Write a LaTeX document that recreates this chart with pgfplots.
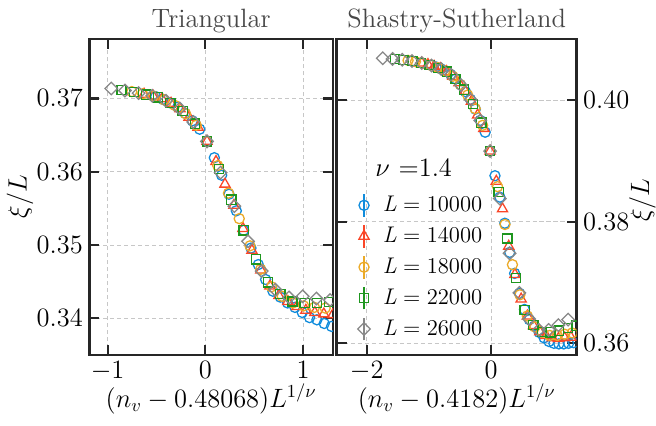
\documentclass[border=0pt]{standalone}
\usepackage{fontspec}
\usepackage{pgfplots}
\pgfplotsset{compat=1.18}
\definecolor{cB}{RGB}{16,140,220}
\definecolor{cR}{RGB}{250,70,40}
\definecolor{cO}{RGB}{235,170,40}
\definecolor{cG}{RGB}{30,150,30}
\definecolor{cK}{RGB}{136,136,136}
\definecolor{frame}{RGB}{38,38,38}
\newcommand{\Lent}[1]{\textit{L}\hspace{0.28em}=\hspace{0.28em}#1}
\pgfplotsset{
  panel/.style={
    scale only axis, height=171.71pt,
    axis line style={line width=1.4pt, color=frame},
    tick style={line width=1.25pt, color=frame},
    major tick length=5.4pt,
    tick align=inside,
    xtick pos=both, ytick pos=both,
    xticklabel pos=lower,
    grid=major,
    major grid style={line width=0.45pt, color=black!22, dash pattern=on 2.2pt off 1.6pt},
    clip marker paths=true,
    every axis title/.style={at={(axis description cs:0.5,1)}, anchor=base, yshift=6.5pt, color=black!72},
    xlabel style={at={(axis description cs:0.5,0)}, anchor=base, yshift=-28.3pt},
  },
  sB/.style={only marks, mark=o, mark size=2.75pt, color=cB, line width=0.7pt},
  sR/.style={only marks, mark=triangle, mark size=3.2pt, color=cR, line width=0.7pt},
  sO/.style={only marks, mark=o, mark size=2.75pt, color=cO, line width=0.7pt},
  sG/.style={only marks, mark=square, mark size=2.5pt, color=cG, line width=0.7pt},
  sK/.style={only marks, mark=square, mark options={rotate=45}, mark size=2.4pt, color=cK, line width=0.7pt},
}
\begin{document}
\begin{tikzpicture}[font=\Large]
\path[use as bounding box] (-48.53pt,-38.04pt) rectangle (307.95pt,192.91pt);
% ---------------- left panel ----------------
\begin{axis}[panel, at={(0pt,0pt)}, anchor=south west, width=132.43pt,
  xmin=-1.188, xmax=1.307, ymin=0.3350, ymax=0.3781,
  xtick={-1,0,1}, ytick={0.34,0.35,0.36,0.37},
  yticklabel style={/pgf/number format/fixed, /pgf/number format/precision=2, /pgf/number format/fixed zerofill},
  title={Triangular},
  xlabel={$(n_v-0.48068)L^{1/\nu}$},
  every axis y label/.style={at={(axis description cs:-0.2844,0.5016)}, rotate=90, anchor=center},
  ylabel={$\xi/L$},
]
\addplot[sB] table {
-0.508 0.37025
-0.433 0.36986
-0.358 0.36938
-0.283 0.36880
-0.208 0.36798
-0.133 0.36694
-0.058 0.36580
0.017 0.36414
0.092 0.36191
0.167 0.35952
0.242 0.35693
0.317 0.35467
0.392 0.35201
0.467 0.34958
0.542 0.34733
0.617 0.34530
0.692 0.34370
0.767 0.34290
0.842 0.34210
0.917 0.34150
0.992 0.34080
1.067 0.34010
1.142 0.33980
1.217 0.33930
1.292 0.33890
};
\addplot[sR] table {
-0.627 0.37057
-0.535 0.37033
-0.443 0.36994
-0.351 0.36933
-0.259 0.36857
-0.167 0.36742
-0.075 0.36606
0.017 0.36414
0.109 0.36139
0.201 0.35830
0.293 0.35543
0.385 0.35226
0.477 0.34927
0.569 0.34660
0.661 0.34440
0.753 0.34310
0.845 0.34230
0.937 0.34160
1.029 0.34110
1.121 0.34080
1.213 0.34060
1.305 0.34050
};
\addplot[sO] table {
-0.753 0.37093
-0.643 0.37062
-0.533 0.37032
-0.423 0.36980
-0.313 0.36905
-0.203 0.36792
-0.093 0.36634
0.017 0.36414
0.127 0.36083
0.237 0.35708
0.347 0.35360
0.457 0.34989
0.567 0.34670
0.677 0.34430
0.787 0.34300
0.897 0.34210
1.007 0.34170
1.117 0.34150
1.227 0.34140
};
\addplot[sG] table {
-0.858 0.37114
-0.733 0.37087
-0.608 0.37052
-0.483 0.37013
-0.358 0.36938
-0.233 0.36831
-0.108 0.36657
0.017 0.36414
0.142 0.36036
0.267 0.35620
0.392 0.35201
0.517 0.34805
0.642 0.34492
0.767 0.34330
0.892 0.34230
1.017 0.34210
1.142 0.34210
1.267 0.34220
};
\addplot[sK] table {
-0.963 0.37135
-0.823 0.37107
-0.683 0.37073
-0.543 0.37035
-0.403 0.36968
-0.263 0.36862
-0.123 0.36679
0.017 0.36414
0.157 0.35988
0.297 0.35531
0.437 0.35050
0.577 0.34645
0.717 0.34390
0.857 0.34285
0.997 0.34300
1.137 0.34270
1.277 0.34250
};
\end{axis}
% ---------------- right panel ----------------
\begin{axis}[panel, at={(134.44pt,0pt)}, anchor=south west, width=130.42pt,
  xmin=-2.483, xmax=1.379, ymin=0.35808, ymax=0.41003,
  xtick={-2,0}, ytick={0.36,0.38,0.40},
  ytick pos=both, yticklabel pos=right,
  yticklabel style={/pgf/number format/fixed, /pgf/number format/precision=2, /pgf/number format/fixed zerofill},
  title={Shastry-Sutherland},
  xlabel={$(n_v-0.4182)L^{1/\nu}$},
  every axis y label/.style={at={(axis description cs:1.274,0.4905)}, rotate=90, anchor=center},
  ylabel={$\xi/L$},
  legend style={draw=none, fill=none, at={(axis description cs:0.0863,0.0407)}, anchor=south west,
    inner sep=0pt, row sep=2.9pt, column sep=4.9pt, nodes={inner sep=2pt}, font=\fontsize{12.3}{15}\selectfont},
  legend cell align=left,
  legend image code/.code={
    \draw[#1, line width=1pt] (0pt,-6.2pt) -- (0pt,6.2pt);
    \draw[mark repeat=2,mark phase=2,#1] plot coordinates {(-1pt,0pt)(0pt,0pt)(1pt,0pt)};
  },
]
\addplot[sB] table {
-0.884 0.40543
-0.805 0.40512
-0.726 0.40474
-0.647 0.40418
-0.568 0.40346
-0.489 0.40248
-0.410 0.40136
-0.331 0.40010
-0.252 0.39850
-0.173 0.39665
-0.094 0.39471
-0.015 0.39160
0.064 0.38755
0.143 0.38403
0.222 0.37974
0.301 0.37495
0.380 0.37150
0.459 0.36820
0.538 0.36557
0.617 0.36389
0.696 0.36280
0.775 0.36180
0.854 0.36090
0.933 0.36030
1.012 0.36000
1.091 0.35990
1.170 0.35990
1.249 0.36000
1.328 0.36010
};
\addlegendentry{\Lent{10000}}
\addplot[sR] table {
-1.115 0.40609
-1.015 0.40584
-0.915 0.40553
-0.815 0.40516
-0.715 0.40468
-0.615 0.40391
-0.515 0.40282
-0.415 0.40144
-0.315 0.39979
-0.215 0.39754
-0.115 0.39533
-0.015 0.39160
0.085 0.38665
0.185 0.38210
0.285 0.37596
0.385 0.37132
0.485 0.36728
0.585 0.36449
0.685 0.36290
0.785 0.36190
0.885 0.36130
0.985 0.36090
1.085 0.36080
1.185 0.36090
1.285 0.36100
};
\addlegendentry{\Lent{14000}}
\addplot[sO] table {
-1.335 0.40651
-1.215 0.40631
-1.095 0.40605
-0.975 0.40572
-0.855 0.40532
-0.735 0.40478
-0.615 0.40391
-0.495 0.40256
-0.375 0.40082
-0.255 0.39858
-0.135 0.39584
-0.015 0.39160
0.105 0.38576
0.225 0.37954
0.345 0.37293
0.465 0.36798
0.585 0.36450
0.705 0.36270
0.825 0.36180
0.945 0.36130
1.065 0.36130
1.185 0.36150
1.305 0.36170
};
\addlegendentry{\Lent{18000}}
\addplot[sG] table {
-1.544 0.40672
-1.405 0.40659
-1.266 0.40641
-1.127 0.40612
-0.988 0.40576
-0.849 0.40530
-0.710 0.40466
-0.571 0.40349
-0.432 0.40172
-0.293 0.39936
-0.154 0.39627
-0.015 0.39160
0.124 0.38487
0.263 0.37723
0.402 0.37070
0.541 0.36550
0.680 0.36300
0.819 0.36190
0.958 0.36180
1.097 0.36210
1.236 0.36250
1.375 0.36290
};
\addlegendentry{\Lent{22000}}
\addplot[sK] table {
-1.742 0.40687
-1.585 0.40676
-1.428 0.40661
-1.271 0.40641
-1.114 0.40609
-0.957 0.40566
-0.800 0.40510
-0.643 0.40415
-0.486 0.40245
-0.329 0.40007
-0.172 0.39663
-0.015 0.39160
0.142 0.38380
0.299 0.37480
0.456 0.36830
0.613 0.36400
0.770 0.36220
0.927 0.36220
1.084 0.36300
1.241 0.36390
};
\addlegendentry{\Lent{26000}}
\node[anchor=west, inner sep=0pt] at (axis description cs:0.16,0.5935) {$\nu$ =1.4};
\end{axis}
\end{tikzpicture}
\end{document}
